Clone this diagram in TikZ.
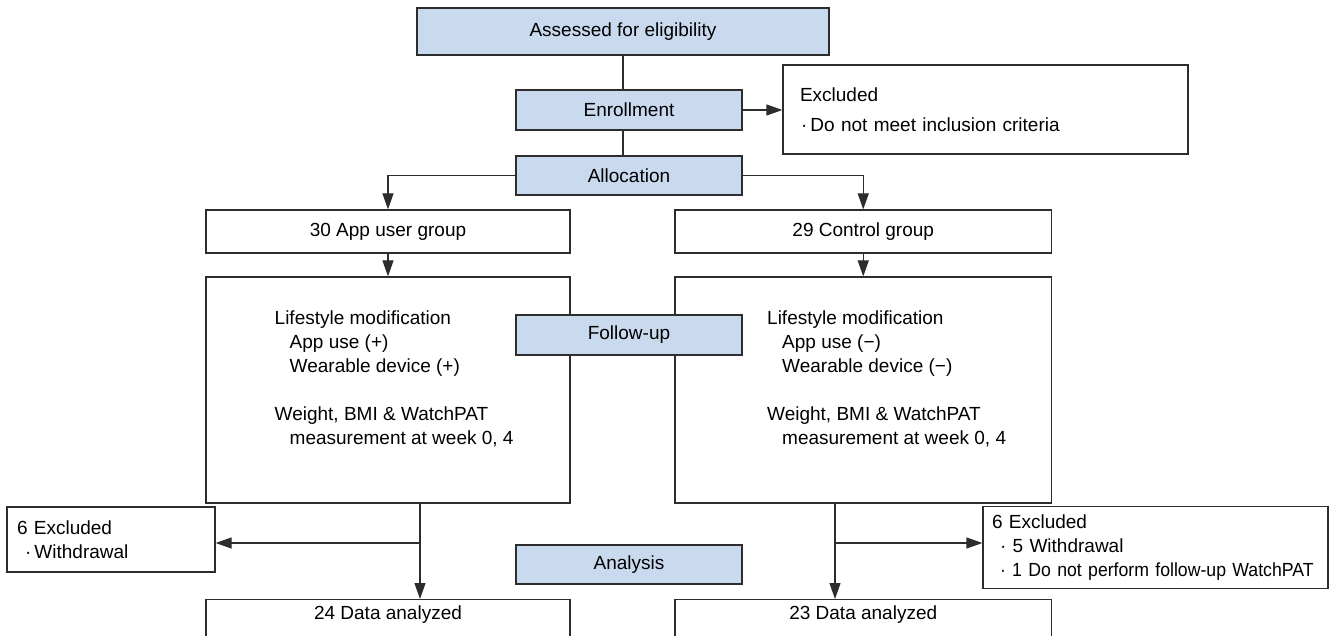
\documentclass[tikz,border=0pt]{standalone}
\usepackage{fontspec}
\setmainfont{Liberation Sans}
\newfontfamily\condensedfont[FakeStretch=0.93]{Liberation Sans}
\usetikzlibrary{arrows.meta}
\definecolor{phaseblue}{RGB}{202,218,238}
\definecolor{linegray}{RGB}{45,45,45}
\begin{document}
\begin{tikzpicture}[
    x=1pt, y=-1pt,
    font=\fontsize{19}{24}\selectfont,
    box/.style={draw=linegray, line width=1.2pt, inner sep=0pt, align=center},
    phase/.style={box, fill=phaseblue, minimum width=226pt, minimum height=40pt},
    group/.style={box, fill=white, minimum height=43pt},
    note/.style={box, align=left, inner xsep=10pt},
    flow/.style={draw=linegray, line width=1.2pt, -{Triangle[length=16pt,width=11pt]}},
    link/.style={draw=linegray, line width=1.2pt}
  ]
  \clip (0,0) rectangle (1331,636);
  % Enrollment and allocation
  \node[phase, minimum width=412pt, minimum height=47pt] (assess) at (623,31.5) {Assessed for eligibility};
  \node[phase] (enroll) at (629,110) {Enrollment};
  \node[phase, minimum height=39pt] (alloc) at (629,175.5) {Allocation};
  \node[note, text width=371pt, inner xsep=17pt, minimum height=89pt, font=\fontsize{19}{30}\selectfont] (excl) at (985.5,109.5) {Excluded\\\hspace*{1pt}·\,Do not meet inclusion criteria};
  \node[group, minimum width=364pt] (app) at (388,231.5) {30 App user group};
  \node[group, minimum width=376.5pt] (ctrl) at (863.25,231.5) {29 Control group};
  % Follow-up
  \node[box, minimum width=364pt, minimum height=226pt] (appbig) at (388,390) {};
  \node[box, minimum width=376.5pt, minimum height=226pt] (ctrlbig) at (863.25,390) {};
  \node[anchor=west, align=left, inner sep=0pt] (appnote) at (274.5,378.5) {Lifestyle modification\\
    \hspace*{15pt}App use (+)\\
    \hspace*{15pt}Wearable device (+)\\[24pt]
    Weight, BMI \& WatchPAT\\
    \hspace*{15pt}measurement at week 0, 4};
  \node[anchor=west, align=left, inner sep=0pt] (ctrlnote) at (767,378.5) {Lifestyle modification\\
    \hspace*{15pt}App use (−)\\
    \hspace*{15pt}Wearable device (−)\\[24pt]
    Weight, BMI \& WatchPAT\\
    \hspace*{15pt}measurement at week 0, 4};
  \node[phase] (follow) at (629,335) {Follow-up};
  % Analysis
  \node[note, text width=188pt, minimum height=65pt] (exL) at (111,539.5) {6 Excluded\\\hspace*{8pt}·\,Withdrawal};
  \node[note, text width=327pt, inner xsep=9pt, minimum height=82pt] (exR) at (1155.5,547.5) {6 Excluded\\\hspace*{8pt}· 5 Withdrawal\\\hspace*{8pt}{\condensedfont · 1 Do not perform follow-up WatchPAT}};
  \node[phase, minimum height=39pt] (analysis) at (629,564.5) {Analysis};
  \node[box, minimum width=364pt, inner ysep=4pt, text height=16pt, text depth=30pt, anchor=north] (dataL) at (388,599) {24 Data analyzed};
  \node[box, minimum width=376.5pt, inner ysep=4pt, text height=16pt, text depth=30pt, anchor=north] (dataR) at (863.25,599) {23 Data analyzed};
  % Connectors
  \draw[link] (assess.south) -- (assess.south |- enroll.north);
  \draw[link] (assess.south |- enroll.south) -- (assess.south |- alloc.north);
  \draw[flow] (enroll.east) -- (excl.west |- enroll.east);
  \draw[flow] (alloc.west) -| (app.north);
  \draw[flow] (alloc.east) -| (ctrl.north);
  \draw[flow] (app.south) -- (appbig.north);
  \draw[flow] (ctrl.south) -- (ctrlbig.north);
  \coordinate (splitL) at (420,543);
  \coordinate (splitR) at (835,543);
  \draw[flow] (splitL |- appbig.south) -- (splitL |- dataL.north);
  \draw[flow] (splitL) -- (splitL -| exL.east);
  \draw[flow] (splitR |- ctrlbig.south) -- (splitR |- dataR.north);
  \draw[flow] (splitR) -- (splitR -| exR.west);
\end{tikzpicture}
\end{document}
